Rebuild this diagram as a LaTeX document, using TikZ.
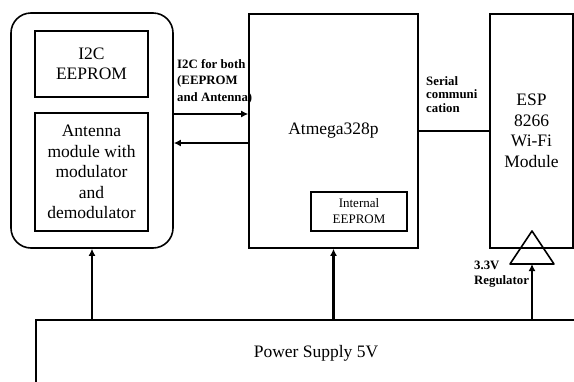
\documentclass[tikz,border=0pt]{standalone}
\usepackage{fontspec}
\setmainfont{Liberation Serif}
\usetikzlibrary{arrows.meta,positioning,calc}
\tikzset{
  blockbox/.style={draw,line width=1.6pt,align=center,inner sep=2pt,
    font=\fontsize{17.5}{20.5}\selectfont},
  smallbox/.style={draw,line width=1.6pt,align=center,inner sep=2pt,
    font=\fontsize{13}{16}\selectfont},
  powerarrow/.style={-{Latex[length=7pt,width=7pt]},line width=2.8pt},
  busarrow/.style={-{Latex[length=7pt,width=7pt]},line width=2.2pt},
  buslabel/.style={font=\bfseries\fontsize{12.8}{16.5}\selectfont,align=left,inner sep=0pt}
}
\begin{document}
\begin{tikzpicture}[x=1pt,y=-1pt]
  \useasboundingbox (0,0) rectangle (574,381);
  \clip (0,0) rectangle (574,381);
  % left module group
  \node[blockbox,rounded corners=20pt,minimum width=162pt,minimum height=235pt] (group) at (92,130.5) {};
  \node[blockbox,minimum width=113pt,minimum height=66pt] (i2c) at (91.5,64) {I2C\\EEPROM};
  \node[blockbox,minimum width=113pt,minimum height=118pt] (antenna) at (91.5,172) {Antenna\\module with\\modulator\\and\\demodulator};
  % controller and wifi
  \node[blockbox,minimum width=169pt,minimum height=234pt] (atmega) at (333.5,131) {Atmega328p};
  \node[smallbox,minimum width=96pt,minimum height=39pt] (internal) at (359,211.5) {Internal\\EEPROM};
  \node[blockbox,minimum width=83pt,minimum height=234pt] (esp) at (531.5,131) {ESP\\8266\\Wi-Fi\\Module};
  % supply
  \node[blockbox,minimum width=560pt,minimum height=66pt] (power) at (316,353) {Power Supply 5V};
  \coordinate (regtip) at (532,231);
  \coordinate (regbase) at (532,264);
  \draw[line width=1.6pt,line join=round] ($(regbase)+(-22,0)$) -- (regtip) -- ($(regbase)+(22,0)$) -- cycle;
  % connectors
  \draw[busarrow] (group.east |- 0,114) -- (atmega.west |- 0,114);
  \draw[busarrow] (atmega.west |- 0,143) -- (group.east |- 0,143);
  \draw[line width=1.6pt] (atmega.east) -- (esp.west);
  \draw[powerarrow] (power.north -| group.south) -- (group.south);
  \draw[powerarrow] (power.north -| atmega.south) -- (atmega.south);
  \draw[powerarrow] (power.north -| regbase) -- (regbase);
  % labels (base = last line)
  \node[buslabel,anchor=base west] (i2clabel) at (177,101) {I2C for both\\(EEPROM\\and Antenna)};
  \node[buslabel,anchor=base west,font=\bfseries\fontsize{12.8}{13.5}\selectfont] (seriallabel) at (426,112) {Serial\\communi\\cation};
  \node[buslabel,anchor=base west,font=\bfseries\fontsize{12.8}{15}\selectfont] (reglabel) at (474,284) {3.3V\\Regulator};
\end{tikzpicture}
\end{document}
